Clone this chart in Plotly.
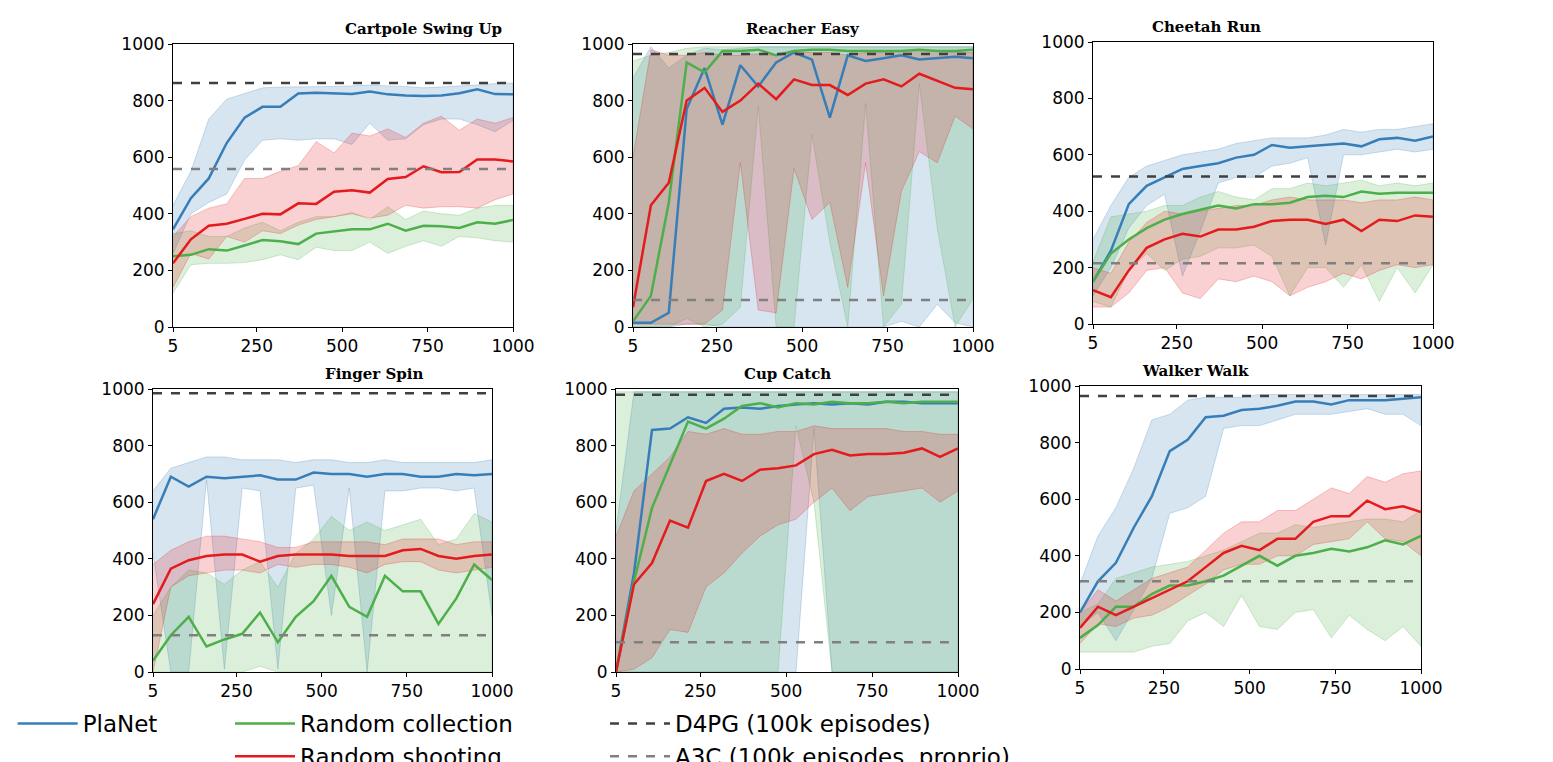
import numpy as np
import plotly.graph_objects as go

episodes = np.linspace(5, 1000, 20)
titles = ["Cartpole Swing Up", "Reacher Easy", "Cheetah Run",
          "Finger Spin", "Cup Catch", "Walker Walk"]

# mean / upper / lower per task, per agent
planet = [
    [345,455,525,650,740,778,778,825,828,826,823,832,822,818,816,818,826,840,823,822],
    [15,15,50,770,915,715,925,850,935,970,945,740,960,940,950,960,945,950,955,950],
    [150,260,425,490,520,550,560,570,590,600,635,625,630,635,640,630,655,660,650,665],
    [540,690,655,690,685,690,695,680,680,705,700,700,690,700,700,690,690,700,695,700],
    [0,350,855,860,900,880,930,935,930,940,945,950,945,950,945,955,955,950,950,950],
    [200,310,375,500,610,770,810,890,895,915,920,930,945,945,935,950,950,950,955,960],
]
planet_hi = [
    [430,550,735,805,825,845,848,848,848,850,852,855,852,850,845,848,850,855,860,862],
    [880,990,915,960,985,980,985,990,990,990,990,990,990,990,990,990,990,990,990,990],
    [300,420,520,560,580,600,610,620,640,650,660,660,660,670,690,680,690,690,700,710],
    [640,720,740,760,760,750,750,750,740,750,750,740,740,750,740,740,740,740,740,750],
    [500,990,990,990,990,990,990,990,990,990,990,990,990,990,990,990,990,990,990,990],
    [300,470,570,710,880,900,950,960,960,960,970,970,970,970,970,970,970,970,970,970],
]
planet_lo = [
    [260,400,440,470,590,660,665,660,665,665,645,720,660,665,715,735,735,715,690,730],
    [0,0,0,10,10,0,0,0,0,0,0,0,0,0,0,20,0,80,15,0],
    [100,200,340,420,460,170,330,500,520,520,560,570,590,280,600,600,610,620,610,620],
    [420,0,0,680,10,650,640,10,650,660,200,650,0,640,640,650,650,640,650,200],
    [0,0,0,0,0,0,0,0,0,0,0,860,0,0,0,0,0,0,0,0],
    [150,200,100,210,320,550,570,610,850,860,860,880,900,900,900,910,920,900,900,860],
]
rand_coll = [
    [250,255,275,270,288,307,303,293,330,338,345,345,365,340,358,356,350,370,365,378],
    [20,110,440,935,900,975,975,980,960,975,980,980,975,975,975,975,980,975,975,980],
    [150,250,300,340,370,390,405,420,410,425,425,430,450,455,450,470,462,465,465,465],
    [40,130,195,90,115,135,210,105,195,250,340,230,195,340,285,285,170,260,380,325],
    [0,320,580,730,885,860,895,940,950,935,950,945,955,950,950,955,950,955,955,955],
    [110,155,220,220,265,295,295,310,330,365,400,365,400,410,425,415,430,455,440,470],
]
rand_coll_hi = [
    [330,340,320,320,350,370,340,370,390,390,405,380,425,380,410,400,395,420,430,430],
    [940,960,970,985,990,990,990,990,990,990,990,990,990,990,990,990,990,990,990,990],
    [220,380,390,400,420,420,450,470,450,440,480,480,500,490,500,510,490,500,490,500],
    [200,300,360,350,310,360,390,300,420,470,550,500,530,500,520,540,450,470,560,530],
    [990,990,990,990,990,990,990,990,990,990,990,990,990,990,990,990,990,990,990,990],
    [200,230,320,340,360,370,380,400,420,450,480,480,510,500,510,520,530,530,520,560],
]
rand_coll_lo = [
    [120,220,225,225,228,238,255,238,282,270,270,300,260,285,305,285,320,315,305,300],
    [0,0,0,30,0,10,70,780,0,0,680,300,0,790,0,80,860,350,0,100],
    [80,60,190,250,190,230,240,270,270,280,240,100,200,200,130,210,80,200,110,210],
    [0,0,0,0,0,0,20,0,0,0,0,0,0,0,0,0,0,0,0,0],
    [0,0,0,0,0,0,0,0,0,0,870,600,0,0,0,0,0,0,0,0],
    [60,60,60,60,80,90,170,200,150,260,150,140,200,210,110,190,140,100,150,80],
]
rand_shoot = [
    [225,310,358,365,382,400,398,437,435,478,483,475,523,530,568,547,548,592,592,585],
    [70,430,510,800,845,760,800,860,805,875,855,855,820,860,875,850,895,870,845,840],
    [120,95,190,270,300,320,310,335,335,345,365,370,370,355,370,330,370,365,385,380],
    [240,365,395,410,415,415,390,410,415,415,415,410,410,410,430,435,410,400,410,415],
    [0,310,385,535,510,675,700,675,715,720,730,770,785,765,770,770,775,790,760,790],
    [145,220,190,220,250,280,310,360,410,435,420,460,460,520,540,540,595,565,575,555],
]
rand_shoot_hi = [
    [320,390,420,435,525,525,550,570,655,615,685,675,700,670,720,745,695,735,720,740],
    [600,980,960,960,970,960,960,965,960,970,970,970,960,970,970,975,980,975,970,970],
    [200,180,290,360,400,390,400,410,420,420,440,450,440,440,440,430,440,440,450,440],
    [380,430,460,480,480,470,460,440,440,460,460,460,460,450,470,470,470,450,460,460],
    [480,640,700,760,850,840,860,840,840,850,850,870,860,860,860,860,850,850,840,840],
    [200,280,240,280,320,340,360,420,480,520,520,560,560,600,640,620,680,660,690,700],
]
rand_shoot_lo = [
    [140,260,240,320,300,340,330,360,380,390,400,385,395,430,420,425,425,420,450,470],
    [10,10,10,10,10,60,580,60,50,560,380,440,140,580,110,480,620,580,745,700],
    [60,60,110,190,200,110,90,160,150,170,150,100,130,150,180,160,190,210,200,210],
    [0,300,340,350,360,360,350,380,370,380,380,370,350,380,390,390,360,350,360,370],
    [0,10,50,150,140,300,350,420,480,520,540,600,650,570,620,630,640,650,600,640],
    [90,160,150,180,190,220,260,300,350,370,370,400,400,440,450,460,520,460,450,400],
]
d4pg = [862, 965, 523, 985, 980, 965]
a3c = [558, 95, 215, 130, 105, 310]

W, H = 1553, 762
# panel boxes in pixels: left, right, top, bottom
boxes = [(165, 505, 36, 319), (625, 965, 36, 319), (1085, 1425, 34, 316),
         (145, 484, 381, 664), (608, 950, 381, 664), (1072, 1413, 378, 661)]

agents = [
    ("PlaNet", "#377eb8", "55,126,184", planet, planet_hi, planet_lo, "legend"),
    ("Random collection", "#4daf4a", "77,175,74", rand_coll, rand_coll_hi, rand_coll_lo, "legend2"),
    ("Random shooting", "#e41a1c", "228,26,28", rand_shoot, rand_shoot_hi, rand_shoot_lo, "legend2"),
]

fig = go.Figure()
layout = {}
ann = []
xs = list(episodes)
for i, (l, r, t, b) in enumerate(boxes):
    k = "" if i == 0 else str(i + 1)
    xa, ya = "x" + k, "y" + k
    for name, col, rgb, mean, hi, lo, lg in agents:
        fig.add_trace(go.Scatter(
            x=xs + xs[::-1], y=hi[i] + lo[i][::-1], fill="toself",
            fillcolor=f"rgba({rgb},0.2)", line=dict(color=f"rgba({rgb},0.25)", width=1),
            hoverinfo="skip", showlegend=False, xaxis=xa, yaxis=ya))
    for name, col, rgb, mean, hi, lo, lg in agents:
        fig.add_trace(go.Scatter(
            x=xs, y=mean[i], mode="lines", name=name, line=dict(color=col, width=2.5),
            showlegend=(i == 0), legend=lg, xaxis=xa, yaxis=ya))
    fig.add_trace(go.Scatter(
        x=[5, 1000], y=[d4pg[i]] * 2, mode="lines", name="D4PG (100k episodes)",
        line=dict(color="#404040", width=2.5, dash="dash"),
        showlegend=(i == 0), legend="legend3", xaxis=xa, yaxis=ya))
    fig.add_trace(go.Scatter(
        x=[5, 1000], y=[a3c[i]] * 2, mode="lines", name="A3C (100k episodes, proprio)",
        line=dict(color="#808080", width=2.5, dash="dash"),
        showlegend=(i == 0), legend="legend3", xaxis=xa, yaxis=ya))
    axstyle = dict(showline=True, linecolor="black", mirror=True, showgrid=False,
                   zeroline=False, ticks="outside", ticklen=4, tickcolor="black",
                   tickfont=dict(family="DejaVu Sans", size=17, color="black"))
    layout["xaxis" + k] = dict(domain=[l / W, r / W], range=[5, 1000], anchor=ya,
                               tickvals=[5, 250, 500, 750, 1000], **axstyle)
    layout["yaxis" + k] = dict(domain=[1 - b / H, 1 - t / H], range=[0, 1000], anchor=xa,
                               tickvals=[0, 200, 400, 600, 800, 1000], **axstyle)
    ann.append(dict(text="<b>" + titles[i] + "</b>", x=(l + r) / 2 / W, y=1 - (t - 4) / H,
                    xref="paper", yref="paper", showarrow=False, yanchor="bottom",
                    font=dict(family="DejaVu Serif", size=15, color="black")))

legfont = dict(family="DejaVu Sans", size=23, color="black")
fig.update_layout(
    **layout, annotations=ann, width=W, height=H,
    margin=dict(l=0, r=0, t=0, b=0, autoexpand=False),
    plot_bgcolor="white", paper_bgcolor="white",
    legend=dict(x=0.003, y=1 - 694 / H, xanchor="left", yanchor="top", font=legfont,
                bgcolor="rgba(0,0,0,0)", itemwidth=60),
    legend2=dict(x=222 / W, y=1 - 694 / H, xanchor="left", yanchor="top", font=legfont,
                 bgcolor="rgba(0,0,0,0)", tracegroupgap=0, itemwidth=60),
    legend3=dict(x=597 / W, y=1 - 694 / H, xanchor="left", yanchor="top", font=legfont,
                 bgcolor="rgba(0,0,0,0)", itemwidth=60),
)
fig.write_html("out.html")
